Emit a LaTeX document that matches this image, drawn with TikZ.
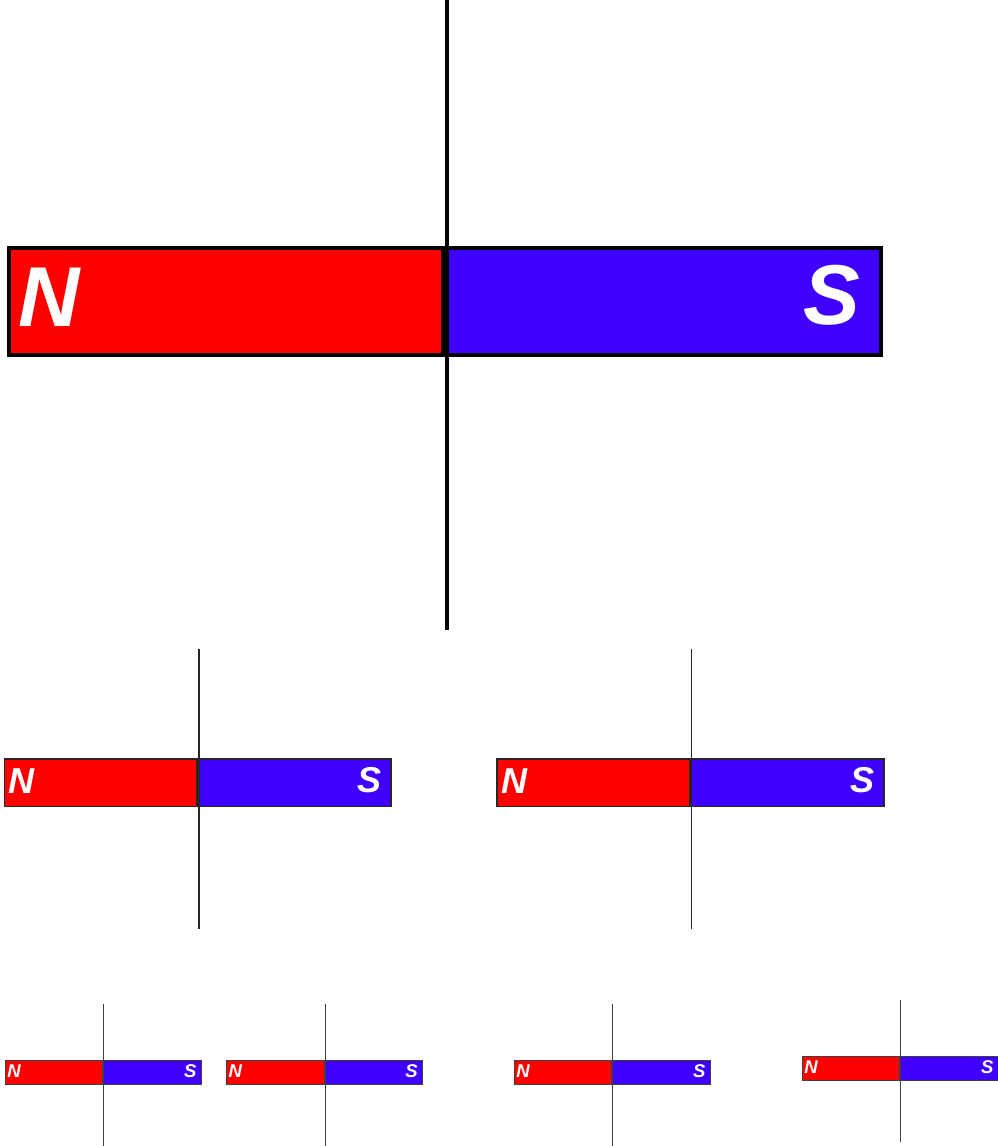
\documentclass[tikz,border=0pt]{standalone}
\usepackage{fontspec}
\setmainfont{Liberation Sans}
\definecolor{magred}{RGB}{255,0,0}
\definecolor{magblue}{RGB}{64,0,255}
\tikzset{
  poletext/.style={anchor=base west, inner sep=0pt, text=white},
}
% #1 x, #2 y (top-left border centre), #3 scale, #4 name, #5 border width, #6 line width, #7 font size, #8 border colour
\newcommand\drawmag[8]{%
\begin{scope}[shift={(#1,#2)}]
  \fill[magred] (0,0) rectangle (434*#3,107.2*#3);
  \fill[magblue] (438*#3,0) rectangle (871.5*#3,107.2*#3);
  \draw[#8, line width=#5] (0,0) rectangle (434*#3,107.2*#3);
  \draw[#8, line width=#5] (438*#3,0) rectangle (871.5*#3,107.2*#3);
  \coordinate (top#4) at (438*#3,-247.5*#3);
  \coordinate (bot#4) at (438*#3,382.5*#3);
  \draw[#8, line width=#6] (top#4) -- (bot#4);
  \node[poletext, anchor=base west, font=\fontsize{#7}{#7}\selectfont\bfseries\itshape] (N#4) at (9*#3,78.5*#3) {N};
  \node[poletext, anchor=base east, font=\fontsize{#7}{#7}\selectfont\bfseries\itshape] (S#4) at (851*#3,77*#3) {S};
\end{scope}}
\begin{document}
\begin{tikzpicture}[x=1pt,y=-1pt]
\useasboundingbox (0,0) rectangle (997,1146);
\fill[white] (0,0) rectangle (997,1146);
\drawmag{9}{247.5}{1}{a}{4pt}{4pt}{85}{black}
\drawmag{4.3}{758.8}{0.444}{b}{1.6pt}{1.8pt}{36}{black!85}
\drawmag{497}{758.8}{0.444}{c}{1.6pt}{1.8pt}{36}{black!85}
\drawmag{5.2}{1060}{0.225}{d}{1pt}{1.1pt}{18.5}{black!75}
\drawmag{226.5}{1060}{0.225}{e}{1pt}{1.1pt}{18.5}{black!75}
\drawmag{514.2}{1060}{0.225}{f}{1pt}{1.1pt}{18.5}{black!75}
\drawmag{802.2}{1056}{0.225}{g}{1pt}{1.1pt}{18.5}{black!75}
\end{tikzpicture}
\end{document}
